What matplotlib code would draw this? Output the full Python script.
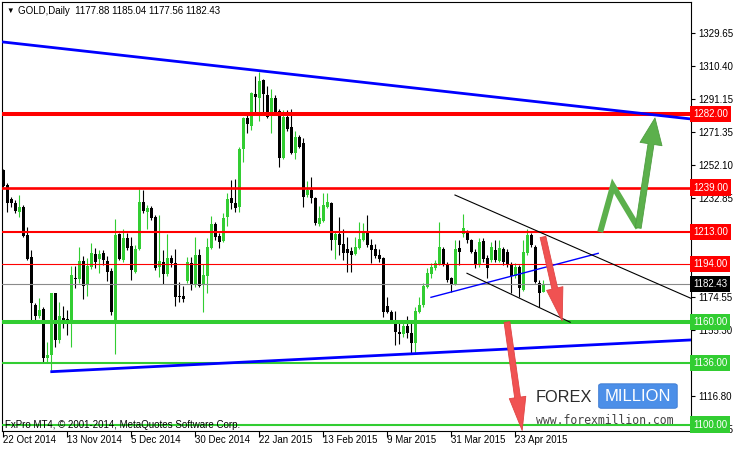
import numpy as np
import matplotlib
matplotlib.use('Agg')
import matplotlib.pyplot as plt
from matplotlib.patches import FancyBboxPatch

plt.rcParams['font.family'] = ['Liberation Sans', 'DejaVu Sans']

# Daily bars, bar 0 = 22 Oct 2014 ... last bar = 4 May 2015
opens = [1249.0, 1240.5, 1232.3, 1230.1, 1224.8, 1227.8, 1211.2, 1198.1, 1170.1, 1163.9,
         1167.8, 1138.8, 1140.8, 1176.9, 1149.6, 1162.3, 1161.9, 1161.3, 1186.1, 1185.4,
         1195.9, 1182.4, 1192.6, 1200.0, 1197.1, 1200.8, 1195.9, 1190.3, 1159.7, 1211.6,
         1196.5, 1209.2, 1204.7, 1189.7, 1203.0, 1230.7, 1224.8, 1227.2, 1221.9, 1192.6,
         1195.1, 1188.3, 1197.9, 1194.5, 1175.6, 1175.6, 1184.4, 1194.5, 1181.8, 1199.4,
         1181.8, 1187.1, 1203.4, 1217.6, 1210.6, 1207.7, 1221.9, 1232.7, 1229.7, 1227.8,
         1261.4, 1279.6, 1275.3, 1293.9, 1291.7, 1302.1, 1293.3, 1282.5, 1291.7, 1284.1,
         1256.1, 1280.6, 1274.7, 1259.4, 1268.8, 1265.3, 1234.6, 1237.6, 1232.7, 1217.6,
         1219.6, 1227.8, 1229.7, 1208.2, 1211.8, 1205.9, 1202.8, 1202.0, 1200.0, 1203.4,
         1208.2, 1212.2, 1205.3, 1202.8, 1199.4, 1197.5, 1169.5, 1166.2, 1160.9, 1154.5,
         1153.1, 1157.8, 1153.9, 1148.0, 1166.2, 1170.1, 1180.9, 1188.3, 1191.6, 1194.2,
         1202.8, 1194.2, 1185.8, 1182.4, 1203.4, 1212.0, 1212.5, 1208.2, 1201.4, 1193.6,
         1207.7, 1197.5, 1196.5, 1202.4, 1196.1, 1202.8, 1201.4, 1193.6, 1187.1, 1192.6,
         1178.9, 1200.4, 1211.2, 1204.0, 1183.2, 1177.88]
highs = [1250.0, 1241.5, 1233.6, 1231.7, 1234.6, 1228.8, 1215.7, 1202.4, 1171.5, 1174.0,
         1169.1, 1148.6, 1177.4, 1177.4, 1172.1, 1169.5, 1167.2, 1193.0, 1193.2, 1203.9,
         1198.9, 1197.4, 1206.7, 1203.4, 1202.4, 1202.4, 1198.9, 1191.6, 1220.6, 1212.2,
         1214.7, 1212.2, 1209.8, 1205.3, 1237.9, 1237.6, 1228.8, 1228.2, 1222.9, 1222.9,
         1202.4, 1211.8, 1199.4, 1203.0, 1183.8, 1181.3, 1198.1, 1198.1, 1209.8, 1203.0,
         1194.2, 1209.6, 1222.5, 1219.0, 1212.2, 1224.3, 1235.6, 1243.4, 1244.0, 1262.6,
         1280.2, 1281.5, 1295.2, 1304.4, 1307.0, 1302.5, 1298.6, 1296.6, 1293.3, 1284.9,
         1284.5, 1284.5, 1284.9, 1272.4, 1269.8, 1267.9, 1243.0, 1245.0, 1233.7, 1228.0,
         1235.6, 1235.6, 1230.7, 1213.1, 1221.9, 1214.5, 1209.8, 1203.9, 1210.2, 1219.0,
         1218.4, 1222.9, 1208.8, 1205.9, 1202.8, 1198.5, 1175.0, 1167.0, 1166.6, 1160.9,
         1159.8, 1163.7, 1159.4, 1169.1, 1175.0, 1182.8, 1191.6, 1194.6, 1196.5, 1219.0,
         1203.9, 1195.5, 1186.7, 1208.2, 1208.2, 1223.5, 1214.0, 1209.0, 1203.0, 1209.2,
         1209.2, 1199.4, 1207.3, 1208.2, 1208.2, 1204.3, 1202.8, 1195.5, 1194.6, 1193.6,
         1208.2, 1214.5, 1212.5, 1205.3, 1184.8, 1185.04]
lows = [1239.5, 1224.9, 1227.8, 1223.9, 1221.9, 1210.2, 1196.5, 1160.3, 1160.3, 1162.3,
        1136.9, 1136.9, 1132.0, 1145.7, 1147.6, 1156.4, 1152.5, 1145.7, 1180.3, 1183.2,
        1173.6, 1175.4, 1191.0, 1191.6, 1189.1, 1193.6, 1184.4, 1164.3, 1141.4, 1196.5,
        1195.5, 1202.4, 1184.8, 1189.1, 1202.4, 1223.9, 1214.7, 1220.0, 1190.6, 1186.4,
        1182.4, 1187.1, 1192.2, 1169.7, 1172.1, 1171.7, 1182.8, 1178.9, 1180.9, 1180.5,
        1166.2, 1177.4, 1202.8, 1208.2, 1203.7, 1207.3, 1216.6, 1226.2, 1224.8, 1224.8,
        1254.2, 1271.2, 1272.7, 1283.5, 1278.2, 1283.1, 1279.6, 1271.2, 1282.5, 1251.2,
        1255.5, 1272.3, 1258.7, 1255.7, 1262.0, 1227.4, 1233.7, 1230.1, 1217.0, 1216.6,
        1219.0, 1226.8, 1202.4, 1196.9, 1199.4, 1196.5, 1189.7, 1189.7, 1199.4, 1202.8,
        1207.7, 1204.3, 1194.6, 1197.5, 1195.5, 1162.9, 1165.2, 1160.3, 1146.7, 1147.3,
        1151.6, 1150.6, 1141.8, 1141.8, 1165.2, 1169.1, 1179.9, 1185.8, 1190.6, 1193.6,
        1193.0, 1183.8, 1177.9, 1181.9, 1193.6, 1210.0, 1206.3, 1200.4, 1191.6, 1192.6,
        1195.5, 1185.8, 1195.5, 1195.5, 1195.5, 1193.6, 1192.2, 1177.0, 1185.8, 1174.6,
        1178.5, 1199.4, 1204.0, 1182.8, 1169.1, 1177.56]
closes = [1240.0, 1230.1, 1230.1, 1225.2, 1227.8, 1210.6, 1197.1, 1171.5, 1163.9, 1167.2,
          1138.8, 1140.8, 1176.9, 1149.6, 1163.7, 1161.3, 1161.3, 1187.7, 1185.4, 1195.9,
          1181.5, 1193.0, 1200.4, 1195.5, 1200.0, 1196.5, 1189.7, 1166.2, 1211.2, 1197.1,
          1209.2, 1203.7, 1190.6, 1203.0, 1230.7, 1225.4, 1227.2, 1221.3, 1192.0, 1195.9,
          1188.3, 1197.9, 1194.5, 1175.0, 1174.6, 1173.6, 1195.5, 1182.2, 1199.4, 1181.3,
          1187.7, 1204.3, 1217.6, 1209.8, 1207.3, 1221.0, 1232.1, 1229.7, 1227.2, 1261.6,
          1279.6, 1276.1, 1294.6, 1291.9, 1301.5, 1293.7, 1280.2, 1291.7, 1283.1, 1256.5,
          1280.6, 1273.1, 1259.4, 1268.5, 1263.0, 1233.3, 1237.6, 1232.7, 1218.0, 1220.9,
          1228.8, 1230.7, 1208.2, 1211.8, 1205.3, 1200.4, 1200.8, 1199.4, 1203.9, 1208.8,
          1212.2, 1205.3, 1202.4, 1199.0, 1197.1, 1166.2, 1166.2, 1160.9, 1154.5, 1152.9,
          1157.8, 1153.5, 1148.0, 1166.8, 1170.1, 1181.3, 1188.7, 1192.2, 1195.0, 1203.9,
          1194.2, 1184.8, 1182.4, 1202.8, 1201.4, 1215.0, 1208.2, 1201.4, 1193.6, 1207.3,
          1196.9, 1191.6, 1204.3, 1196.5, 1203.4, 1195.5, 1193.6, 1187.1, 1192.6, 1179.9,
          1201.4, 1211.2, 1205.3, 1183.8, 1177.0, 1182.43]

date_ticks = [0, 16, 32, 48, 64, 80, 96, 112, 128]
date_labels = ['22 Oct 2014', '13 Nov 2014', '5 Dec 2014', '30 Dec 2014', '22 Jan 2015',
               '13 Feb 2015', '9 Mar 2015', '31 Mar 2015', '23 Apr 2015']
price_ticks = [1097.55, 1116.80, 1136.05, 1155.30, 1174.55, 1193.80, 1213.05,
               1232.85, 1252.10, 1271.35, 1291.15, 1310.40, 1329.65]
# labels that sit fully under the level boxes are not shown
hidden_ticks = [1136.05, 1193.80, 1213.05]

resistance = [1282.00, 1239.00, 1213.00, 1194.00]
resistance_lw = [2.9, 1.9, 1.5, 0.8]
support = [1160.00, 1136.00, 1100.00]
support_lw = [2.9, 1.5, 1.5]
last_price = 1182.43

# trend lines: (bar index, price)
upper_trend = ([-0.3, 171.9], [1324.4, 1279.2])
lower_trend = ([12.1, 171.9], [1131.0, 1149.6])
channel_top = ([112.9, 171.9], [1234.6, 1174.0])
channel_bottom = ([115.9, 141.7], [1188.7, 1160.0])
wedge_line = ([106.9, 148.7], [1174.6, 1200.4])
green_path = ([149.2, 152.4, 158.7, 162.9], [1212.9, 1239.9, 1215.3, 1279.8])
red_arrow_1 = ([134.9, 139.7], [1210.0, 1160.7])
red_arrow_2 = ([125.9, 129.7], [1160.1, 1096.5])

RED = '#FF0000'
GREEN = '#32CD32'

fig = plt.figure(figsize=(7.34, 4.51), dpi=100)
ax = fig.add_axes([2 / 734, 20 / 451, 689 / 734, 429 / 451])

# candles
x = np.arange(len(opens))
o, h, l, c = (np.array(v) for v in (opens, highs, lows, closes))
cols = np.where(c >= o, GREEN, 'black')
ax.vlines(x, l, h, colors=cols, lw=0.8, zorder=2)
ax.bar(x, np.maximum(np.abs(c - o), 0.5), bottom=np.minimum(o, c), width=0.72,
       color=cols, lw=0, zorder=2)

# horizontal levels
for p, w in zip(resistance, resistance_lw):
    ax.axhline(p, color=RED, lw=w, zorder=3)
for p, w in zip(support, support_lw):
    ax.axhline(p, color=GREEN, lw=w, zorder=3)
ax.axhline(last_price, color='#8a8a8a', lw=0.8, zorder=3)

# trend lines
ax.plot(*upper_trend, color='#0000FF', lw=2.0, zorder=4)
ax.plot(*lower_trend, color='#0000FF', lw=2.0, zorder=4)
ax.plot(*wedge_line, color='#0000FF', lw=1.0, zorder=4)
ax.plot(*channel_top, color='black', lw=0.8, zorder=4)
ax.plot(*channel_bottom, color='black', lw=0.8, zorder=4)

# arrows
red_style = 'simple,head_length=2.4,head_width=1.2,tail_width=0.42'
for arr in (red_arrow_1, red_arrow_2):
    ax.annotate('', xy=(arr[0][1], arr[1][1]), xytext=(arr[0][0], arr[1][0]),
                arrowprops=dict(arrowstyle=red_style, fc='#F05252', ec='#E04444', lw=0.6,
                                mutation_scale=10, shrinkA=0, shrinkB=0), zorder=6)
ax.plot(green_path[0][:3], green_path[1][:3], color='#5CB04C', lw=4.3,
        solid_joinstyle='miter', solid_capstyle='butt', zorder=6)
ax.annotate('', xy=(green_path[0][3], green_path[1][3]), xytext=(green_path[0][2], green_path[1][2]),
            arrowprops=dict(arrowstyle='simple,head_length=1.9,head_width=1.6,tail_width=0.43',
                            fc='#5CB04C', ec='#4E9E40', lw=0.6, mutation_scale=10,
                            shrinkA=0, shrinkB=0), zorder=6)

# axes
ax.set_xlim(-0.33, 171.9)
ax.set_ylim(1096.2, 1347.8)
ax.set_xticks(date_ticks)
ax.set_xticklabels(date_labels, ha='left')
ax.yaxis.tick_right()
ax.set_yticks(price_ticks)
ax.set_yticklabels(['' if v in hidden_ticks else f'{v:.2f}' for v in price_ticks])
ax.tick_params(axis='x', direction='out', length=4, width=0.8, labelsize=7, pad=-1)
ax.tick_params(axis='y', direction='out', length=3, width=0.8, labelsize=7, pad=2)
for s in ax.spines.values():
    s.set_linewidth(0.8)

# price labels on the right
ytr = ax.get_yaxis_transform()
levels = [(p, RED) for p in resistance] + [(p, GREEN) for p in support] + [(last_price, 'black')]
for p, col in levels:
    ax.text(1.003, p, f'{p:.2f}', transform=ytr, color='white', fontsize=7, va='center',
            ha='left', bbox=dict(boxstyle='square,pad=0.32', fc=col, ec='none'),
            zorder=10, clip_on=False)

# header and footer texts
ax.text(0.006, 0.979, '\u25bc', transform=ax.transAxes, fontsize=5.5, va='center', ha='left')
ax.text(0.023, 0.979, 'GOLD,Daily  1177.88 1185.04 1177.56 1182.43', transform=ax.transAxes,
        fontsize=7, va='center', ha='left')
ax.text(0.0044, 0.014, 'FxPro MT4, \u00a9 2001-2014, MetaQuotes Software Corp.',
        transform=ax.transAxes, fontsize=7, va='center', ha='left', zorder=7)

# logo
ax.text(0.775, 0.079, 'FOREX', transform=ax.transAxes, fontsize=11.8, color='#2b2b2b',
        va='center', ha='left', zorder=7)
ax.add_patch(FancyBboxPatch((0.866, 0.053), 0.114, 0.057, transform=ax.transAxes,
                            boxstyle='round,pad=0,rounding_size=0.004', fc='#4C8FE8',
                            ec='#3A78D0', lw=0.6, zorder=7))
ax.text(0.923, 0.080, 'MILLION', transform=ax.transAxes, fontsize=12, color='white',
        va='center', ha='center', zorder=8)
ax.text(0.775, 0.024, 'www.forexmillion.com', transform=ax.transAxes, fontsize=8.3,
        family='DejaVu Sans Mono', color='#444444', va='center', ha='left', zorder=7)

fig.savefig('out.png', dpi=100, facecolor='white')
